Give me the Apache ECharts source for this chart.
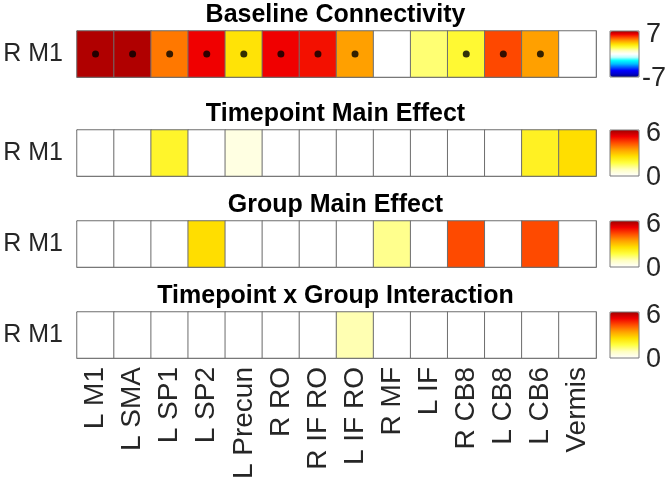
<!DOCTYPE html>
<html>
<head>
<meta charset="utf-8">
<script src="https://cdn.jsdelivr.net/npm/echarts@6/dist/echarts.min.js"></script>
<style>html,body{margin:0;padding:0;background:#fff}#c{width:671px;height:500px}</style>
</head>
<body>
<div id="c"></div>
<script>
// ---- data ----
const regions = ['L M1','L SMA','L SP1','L SP2','L Precun','R RO','R IF RO','L IF RO','R MF','L IF','R CB8','L CB8','L CB6','Vermis'];
const rowLabel = ['R M1'];
const titles = ['Baseline Connectivity','Timepoint Main Effect','Group Main Effect','Timepoint x Group Interaction'];
const baseline    = [6.8, 6.8, 4.5, 6.0, 2.9, 6.0, 5.8, 4.0, 0, 1.6, 2.2, 5.1, 4.0, 0];
const baselineSig = [1, 1, 1, 1, 1, 1, 1, 1, 0, 0, 1, 1, 1, 0];
const timepoint   = [0, 0, 2.0, 0, 0.4, 0, 0, 0, 0, 0, 0, 0, 2.1, 2.6];
const group       = [0, 0, 0, 2.6, 0, 0, 0, 0, 1.2, 0, 4.35, 0, 4.35, 0];
const interaction = [0, 0, 0, 0, 0, 0, 0, 0.95, 0, 0, 0, 0, 0, 0];
const cbRange1 = [-7, 7];
const cbRange2 = [0, 6];
const cbTicks1 = ['7', '-7'];
const cbTicks2 = ['6', '0'];

// ---- colormaps ----
const divColors = ['#000080','#0000d0','#0000ff','#0060ff','#00c0ff','#00ffff','#c0ffff','#ffffff',
                   '#ffffc0','#ffff40','#ffe000','#ffa000','#ff5000','#f00000','#a00000'];
const hotColors = ['#ffffff','#ffffc0','#ffff40','#ffe000','#ffa000','#ff5000','#f00000','#a00000'];

// ---- layout ----
const L = 77, W = 519, H = 46;
const tops = [31, 130, 221, 312];
const cbLeft = 610, cbW = 29;
const font = '"Liberation Sans", Arial, Helvetica, sans-serif';
const rows = [baseline, timepoint, group, interaction];

const grid = [], xAxis = [], yAxis = [], series = [], visualMap = [], title = [], graphic = [];
const tickStyle = {show: true, inside: true, length: 5, alignWithLabel: true, lineStyle: {color: '#555', width: 1}};
const lineStyle = {show: true, lineStyle: {color: '#7a7a7a', width: 1}};

rows.forEach((vals, i) => {
  grid.push({left: L, top: tops[i], width: W, height: H});
  const last = i === rows.length - 1;
  xAxis.push({type: 'category', gridIndex: i, data: regions, position: 'bottom',
    axisLine: lineStyle, axisTick: tickStyle, splitLine: {show: false},
    axisLabel: {show: last, interval: 0, hideOverlap: false, rotate: 90, fontSize: 28,
      fontFamily: font, color: '#262626', margin: 9}});
  xAxis.push({type: 'category', gridIndex: i, data: regions, position: 'top',
    axisLine: lineStyle, axisTick: tickStyle, axisLabel: {show: false}});
  yAxis.push({type: 'category', gridIndex: i, data: rowLabel, position: 'left',
    axisLine: lineStyle, axisTick: tickStyle,
    axisLabel: {fontSize: 25, fontFamily: font, color: '#262626', margin: 14}});
  yAxis.push({type: 'category', gridIndex: i, data: rowLabel, position: 'right',
    axisLine: lineStyle, axisTick: tickStyle, axisLabel: {show: false}});
  series.push({type: 'heatmap', xAxisIndex: 2 * i, yAxisIndex: 2 * i,
    data: vals.map((v, k) => [k, 0, v]),
    itemStyle: {borderColor: '#6e6e6e', borderWidth: 1}, emphasis: {disabled: true}, z: 1});
  const rng = i === 0 ? cbRange1 : cbRange2;
  const tk = i === 0 ? cbTicks1 : cbTicks2;
  visualMap.push({type: 'continuous', seriesIndex: i, min: rng[0], max: rng[1],
    inRange: {color: i === 0 ? divColors : hotColors},
    orient: 'vertical', left: cbLeft, top: tops[i], itemWidth: cbW, itemHeight: H,
    padding: 0, calculable: false, text: null, showLabel: false, hoverLink: false});
  title.push({text: titles[i], left: 'center', top: tops[i] - 33,
    textStyle: {fontSize: 25, fontWeight: 'bold', fontFamily: font, color: '#000'}});
  graphic.push({type: 'rect', shape: {x: cbLeft, y: tops[i], width: cbW, height: H},
    style: {fill: 'none', stroke: '#7a7a7a', lineWidth: 1}, z: 100});
  graphic.push({type: 'text', left: 646, top: tops[i] - 10,
    style: {text: tk[0], fontSize: 27, fontFamily: font, fill: '#262626'}});
  graphic.push({type: 'text', left: tk[1].length > 1 ? 642 : 646, top: tops[i] + H - 12,
    style: {text: tk[1], fontSize: 27, fontFamily: font, fill: '#262626'}});
});

series.push({type: 'scatter', xAxisIndex: 0, yAxisIndex: 0, symbolSize: 7,
  itemStyle: {color: '#000'}, z: 5, silent: true,
  data: baselineSig.map((s, k) => s ? [k, 0] : null).filter(d => d)});

const chart = echarts.init(document.getElementById('c'), null, {renderer: 'canvas'});
chart.setOption({animation: false, backgroundColor: '#fff', title, grid, xAxis, yAxis, series, visualMap, graphic});
</script>
</body>
</html>
